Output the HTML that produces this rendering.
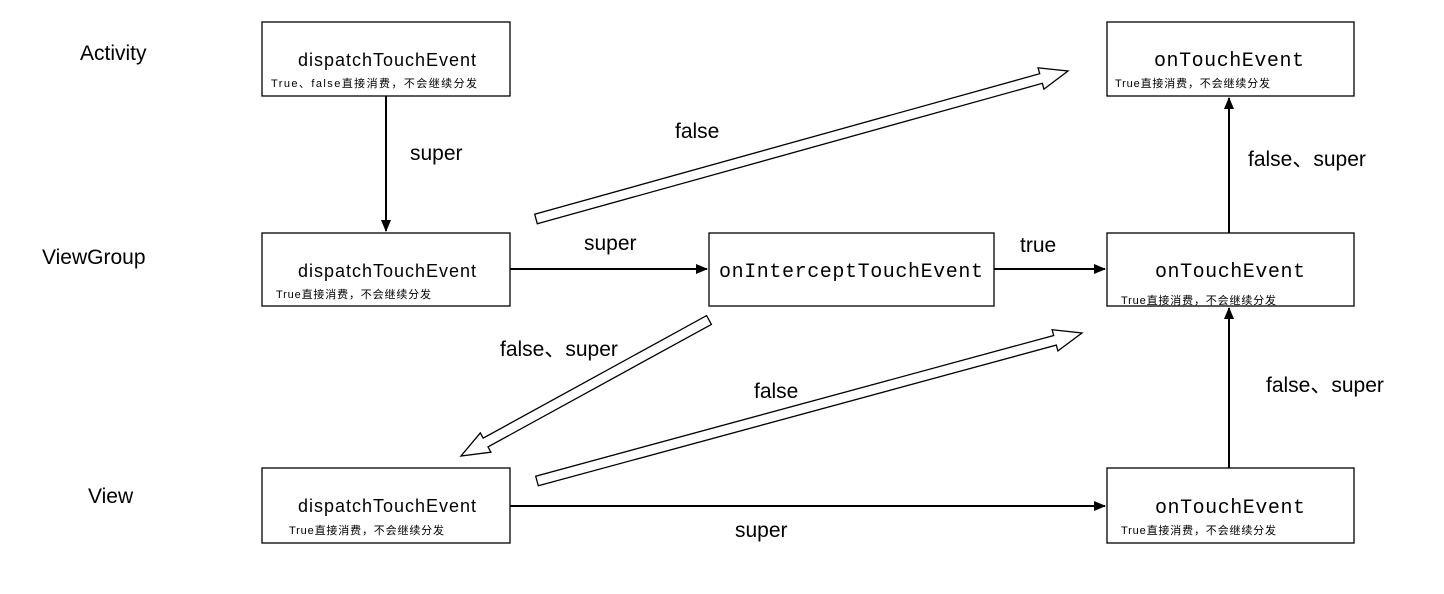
<!DOCTYPE html>
<html><head><meta charset="utf-8"><style>
html,body{margin:0;padding:0;background:#fff;}
svg{display:block;}
.m{font-family:"Liberation Sans","Noto Sans CJK SC",sans-serif;font-size:18px;fill:#000;}
.mono{font-family:"Liberation Mono",monospace;font-size:20px;fill:#000;}
.s{font-family:"Liberation Sans","Noto Sans CJK SC",sans-serif;font-size:11px;fill:#000;}
.l{font-family:"Liberation Sans","Noto Sans CJK SC",sans-serif;font-size:21px;fill:#000;}
</style></head><body>
<svg width="1444" height="594" viewBox="0 0 1444 594" xmlns="http://www.w3.org/2000/svg">
<defs>
<marker id="ah" markerWidth="12" markerHeight="10" refX="11" refY="5" orient="auto" markerUnits="userSpaceOnUse">
<path d="M0,0 L12,5 L0,10 Z" fill="#000"/>
</marker>
</defs>
<g fill="#fff" stroke="#000" stroke-width="1.3">
<rect x="262" y="22" width="248" height="74"/>
<rect x="1107" y="22" width="247" height="74"/>
<rect x="262" y="233" width="248" height="73"/>
<rect x="709" y="233" width="285" height="73"/>
<rect x="1107" y="233" width="247" height="73"/>
<rect x="262" y="468" width="248" height="75"/>
<rect x="1107" y="468" width="247" height="75"/>
</g>
<text class="l" x="80" y="60">Activity</text>
<text class="l" x="42" y="264">ViewGroup</text>
<text class="l" x="88" y="503">View</text>

<text class="m" x="298" y="66" textLength="178">dispatchTouchEvent</text>
<text class="s" x="271" y="87" textLength="206">True、false直接消费，不会继续分发</text>
<text class="mono" x="1154" y="66" textLength="150">onTouchEvent</text>
<text class="s" x="1115" y="87" textLength="155">True直接消费，不会继续分发</text>

<text class="m" x="298" y="277" textLength="178">dispatchTouchEvent</text>
<text class="s" x="276" y="298" textLength="155">True直接消费，不会继续分发</text>
<text class="mono" x="719" y="277" textLength="264">onInterceptTouchEvent</text>
<text class="mono" x="1155" y="277" textLength="150">onTouchEvent</text>
<text class="s" x="1121" y="304" textLength="155">True直接消费，不会继续分发</text>

<text class="m" x="298" y="512" textLength="178">dispatchTouchEvent</text>
<text class="s" x="289" y="534" textLength="155">True直接消费，不会继续分发</text>
<text class="mono" x="1155" y="513" textLength="150">onTouchEvent</text>
<text class="s" x="1121" y="534" textLength="155">True直接消费，不会继续分发</text>

<g stroke="#000" stroke-width="2" fill="none">
<line x1="386" y1="96" x2="386" y2="231" marker-end="url(#ah)"/>
<line x1="510" y1="269" x2="707" y2="269" marker-end="url(#ah)"/>
<line x1="994" y1="269" x2="1105" y2="269" marker-end="url(#ah)"/>
<line x1="1229" y1="233" x2="1229" y2="98" marker-end="url(#ah)"/>
<line x1="1229" y1="468" x2="1229" y2="308" marker-end="url(#ah)"/>
<line x1="510" y1="506" x2="1105" y2="506" marker-end="url(#ah)"/>
</g>
<g fill="#fff" stroke="#000" stroke-width="1.3" stroke-linejoin="miter">
<polygon points="537.3,223.8 1042.4,83.3 1043.9,89.1 1068,71 1038.1,67.9 1039.7,73.7 534.7,214.2"/>
<polygon points="711.4,324.4 488.0,446.9 490.9,452.2 461,456 480.3,432.9 483.2,438.1 706.6,315.6"/>
<polygon points="538.3,485.8 1056.3,345.1 1057.9,350.9 1082,333 1052.1,329.7 1053.7,335.5 535.7,476.2"/>
</g>
<text class="l" x="410" y="160">super</text>
<text class="l" x="675" y="138">false</text>
<text class="l" x="584" y="250">super</text>
<text class="l" x="1020" y="252">true</text>
<text class="l" x="1248" y="166">false、super</text>
<text class="l" x="500" y="356">false、super</text>
<text class="l" x="754" y="398">false</text>
<text class="l" x="1266" y="392">false、super</text>
<text class="l" x="735" y="537">super</text>
</svg>
</body></html>
